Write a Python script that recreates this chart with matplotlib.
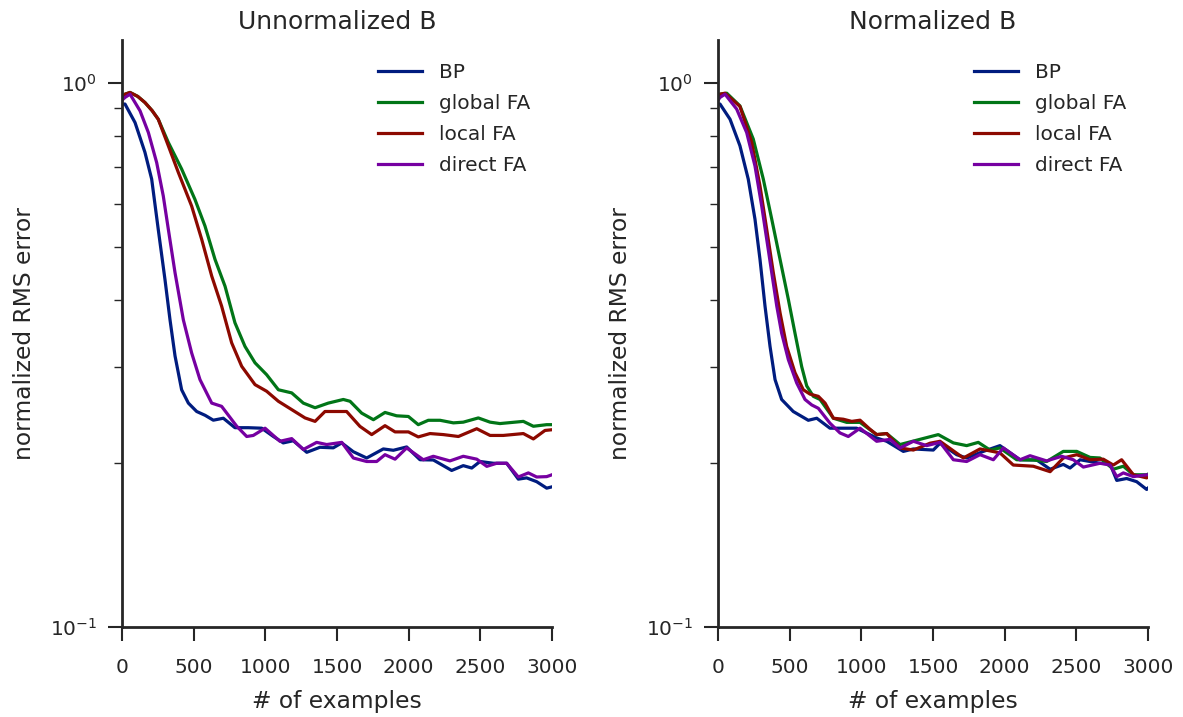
import matplotlib
matplotlib.use('Agg')
import matplotlib.pyplot as plt
import numpy as np
from matplotlib.ticker import NullFormatter, LogLocator

# --- data (x = # of examples, y = normalized RMS error) ---
labels = ['BP', 'global FA', 'local FA', 'direct FA']
colors = ['#001C7F', '#017517', '#8C0900', '#7600A1']

# Unnormalized B
un_bp_x = [0, 21, 91, 160, 207, 253, 300, 335, 370, 416, 463, 521, 580, 637, 707, 788, 881, 975,
           1056, 1125, 1195, 1289, 1381, 1474, 1533, 1614, 1707, 1823, 1893, 1986, 2079, 2172,
           2300, 2381, 2440, 2498, 2591, 2684, 2765, 2823, 2893, 2963, 3000]
un_bp_y = [0.915, 0.915, 0.846, 0.746, 0.666, 0.538, 0.435, 0.367, 0.315, 0.273, 0.258, 0.249, 0.245,
           0.240, 0.242, 0.2325, 0.2325, 0.232, 0.224, 0.218, 0.220, 0.2095, 0.214, 0.2135, 0.218,
           0.210, 0.2045, 0.2125, 0.2113, 0.2143, 0.203, 0.2028, 0.194, 0.198, 0.196, 0.2015, 0.200,
           0.200, 0.187, 0.188, 0.185, 0.180, 0.181]

un_gfa_x = [0, 21, 56, 110, 160, 210, 253, 323, 416, 509, 579, 649, 719, 788, 858, 928, 1009, 1091,
            1184, 1265, 1347, 1439, 1544, 1591, 1672, 1754, 1835, 1916, 1998, 2067, 2137, 2219,
            2312, 2381, 2486, 2568, 2637, 2800, 2870, 2963, 3000]
un_gfa_y = [0.94, 0.954, 0.961, 0.945, 0.921, 0.89, 0.858, 0.778, 0.695, 0.611, 0.546, 0.474, 0.423,
            0.3625, 0.328, 0.306, 0.291, 0.273, 0.2694, 0.258, 0.253, 0.258, 0.262, 0.260, 0.2473,
            0.2405, 0.248, 0.2445, 0.2438, 0.2355, 0.2399, 0.2399, 0.2373, 0.238, 0.2423, 0.238,
            0.2366, 0.2388, 0.2339, 0.2355, 0.2355]

un_lfa_x = [0, 21, 56, 110, 160, 210, 253, 323, 393, 486, 556, 626, 695, 765, 835, 928, 1009, 1091,
            1184, 1277, 1347, 1416, 1533, 1567, 1660, 1742, 1835, 1905, 1998, 2067, 2149, 2242,
            2347, 2475, 2568, 2660, 2800, 2870, 2951, 3000]
un_lfa_y = [0.94, 0.954, 0.961, 0.945, 0.921, 0.89, 0.858, 0.767, 0.685, 0.594, 0.516, 0.4417,
            0.389, 0.333, 0.3015, 0.279, 0.2713, 0.260, 0.251, 0.2423, 0.2388, 0.249, 0.249, 0.249,
            0.2338, 0.2258, 0.2345, 0.2284, 0.2284, 0.2236, 0.2268, 0.2258, 0.224, 0.2315, 0.225,
            0.225, 0.2268, 0.2217, 0.2298, 0.2305]

un_dfa_x = [0, 21, 56, 126, 184, 242, 288, 323, 370, 428, 486, 544, 626, 695, 800, 870, 916, 998,
            1102, 1184, 1265, 1358, 1428, 1533, 1614, 1707, 1777, 1835, 1905, 1986, 2102, 2172,
            2288, 2381, 2475, 2545, 2614, 2684, 2765, 2835, 2893, 2963, 3000]
un_dfa_y = [0.93, 0.941, 0.954, 0.889, 0.811, 0.714, 0.620, 0.539, 0.448, 0.367, 0.319, 0.285,
            0.258, 0.2545, 0.234, 0.224, 0.225, 0.232, 0.2195, 0.222, 0.212, 0.2185, 0.2165,
            0.2185, 0.2045, 0.2015, 0.2015, 0.2074, 0.2035, 0.2134, 0.203, 0.206, 0.202, 0.206,
            0.2035, 0.1974, 0.200, 0.200, 0.1887, 0.192, 0.1887, 0.189, 0.1905]

# Normalized B
no_bp_x = [0, 14, 84, 153, 211, 258, 293, 328, 363, 398, 444, 525, 630, 689, 781, 874, 967, 1107,
           1177, 1293, 1363, 1502, 1549, 1665, 1735, 1851, 1967, 2107, 2224, 2317, 2409, 2456,
           2526, 2665, 2735, 2782, 2851, 2921, 2991, 3000]
no_bp_y = [0.915, 0.915, 0.858, 0.767, 0.666, 0.562, 0.474, 0.389, 0.328, 0.285, 0.262, 0.249,
           0.2399, 0.242, 0.232, 0.232, 0.232, 0.2226, 0.2195, 0.2103, 0.2125, 0.2115, 0.2177,
           0.2074, 0.2045, 0.2103, 0.2155, 0.203, 0.2028, 0.195, 0.199, 0.196, 0.203, 0.200,
           0.1995, 0.186, 0.1875, 0.185, 0.179, 0.180]

no_gfa_x = [0, 14, 61, 153, 246, 316, 375, 433, 491, 537, 584, 619, 665, 712, 805, 898, 991, 1107,
            1177, 1270, 1409, 1537, 1642, 1735, 1816, 1898, 1967, 2084, 2200, 2293, 2409, 2503,
            2596, 2665, 2758, 2828, 2898, 2991, 3000]
no_gfa_y = [0.94, 0.954, 0.958, 0.908, 0.789, 0.666, 0.562, 0.474, 0.400, 0.347, 0.301, 0.2775,
            0.2655, 0.262, 0.242, 0.2378, 0.2378, 0.2258, 0.2268, 0.2165, 0.2213, 0.2258, 0.218,
            0.2155, 0.2185, 0.2115, 0.2134, 0.203, 0.2028, 0.2015, 0.2103, 0.2103, 0.205, 0.2045,
            0.195, 0.1975, 0.1905, 0.1905, 0.191]

no_lfa_x = [0, 14, 49, 153, 235, 293, 340, 386, 433, 479, 537, 595, 642, 700, 747, 805, 874, 933,
            991, 1060, 1107, 1177, 1270, 1363, 1479, 1549, 1712, 1828, 1967, 2060, 2200, 2317,
            2409, 2503, 2596, 2688, 2758, 2816, 2898, 2991, 3000]
no_lfa_y = [0.94, 0.954, 0.958, 0.906, 0.778, 0.647, 0.538, 0.448, 0.378, 0.328, 0.2935, 0.273,
            0.268, 0.2655, 0.258, 0.242, 0.241, 0.2388, 0.240, 0.231, 0.2258, 0.2268, 0.2134,
            0.2115, 0.2177, 0.2195, 0.2045, 0.2125, 0.209, 0.1985, 0.1975, 0.193, 0.2045, 0.2074,
            0.203, 0.2035, 0.1985, 0.203, 0.1905, 0.188, 0.189]

no_dfa_x = [0, 14, 49, 130, 200, 258, 305, 340, 375, 410, 444, 491, 549, 607, 654, 700, 781, 851,
            909, 991, 1107, 1200, 1270, 1363, 1456, 1549, 1642, 1735, 1828, 1921, 1991, 2107,
            2177, 2293, 2398, 2479, 2549, 2665, 2735, 2782, 2828, 2898, 2991, 3000]
no_dfa_y = [0.93, 0.941, 0.954, 0.896, 0.811, 0.704, 0.594, 0.516, 0.448, 0.389, 0.347, 0.310,
            0.281, 0.262, 0.256, 0.2524, 0.237, 0.2274, 0.224, 0.232, 0.2195, 0.2213, 0.2134,
            0.2195, 0.2155, 0.2185, 0.203, 0.2015, 0.2074, 0.203, 0.2134, 0.203, 0.2065, 0.202,
            0.206, 0.203, 0.1968, 0.200, 0.1985, 0.189, 0.192, 0.189, 0.1905, 0.1905]

panels = [
    ('Unnormalized B', [(un_bp_x, un_bp_y), (un_gfa_x, un_gfa_y), (un_lfa_x, un_lfa_y), (un_dfa_x, un_dfa_y)]),
    ('Normalized B', [(no_bp_x, no_bp_y), (no_gfa_x, no_gfa_y), (no_lfa_x, no_lfa_y), (no_dfa_x, no_dfa_y)]),
]

text_color = '#262626'
plt.rcParams['font.family'] = ['DejaVu Sans']
plt.rcParams['text.color'] = text_color
plt.rcParams['axes.labelcolor'] = text_color
plt.rcParams['xtick.color'] = text_color
plt.rcParams['ytick.color'] = text_color

fig = plt.figure(figsize=(11.83, 7.17), dpi=100)
lefts = [122 / 1183, 718 / 1183]

for left, (title, series) in zip(lefts, panels):
    ax = fig.add_axes([left, 90 / 717, 430 / 1183, 587 / 717])
    for (xs, ys), lab, col in zip(series, labels, colors):
        ax.plot(xs, ys, color=col, lw=2.3, label=lab)

    ax.set_yscale('log')
    ax.set_ylim(0.1, 1.2)
    ax.set_xlim(0, 3000)
    ax.set_xticks([0, 500, 1000, 1500, 2000, 2500, 3000])
    ax.yaxis.set_minor_locator(LogLocator(base=10, subs=np.arange(2, 10)))
    ax.yaxis.set_minor_formatter(NullFormatter())

    for side in ['top', 'right']:
        ax.spines[side].set_visible(False)
    for side in ['left', 'bottom']:
        ax.spines[side].set_linewidth(2.0)
        ax.spines[side].set_color(text_color)

    ax.tick_params(axis='x', which='major', pad=12)
    ax.tick_params(axis='y', which='major', pad=8)
    ax.tick_params(which='major', direction='out', length=10, width=1.5, labelsize=14.5)
    ax.tick_params(which='minor', direction='out', length=5.5, width=1.0)

    ax.set_xlabel('# of examples', fontsize=16.8, labelpad=10)
    ax.set_ylabel('normalized RMS error', fontsize=16.8, labelpad=10)
    ax.set_title(title, fontsize=18, pad=8)
    ax.legend(loc='upper left', frameon=False, fontsize=14.5, handlelength=2.2,
              handletextpad=0.8, labelspacing=0.6, borderaxespad=0,
              bbox_to_anchor=(0.577, 0.975))

fig.savefig('out.png', dpi=100)
